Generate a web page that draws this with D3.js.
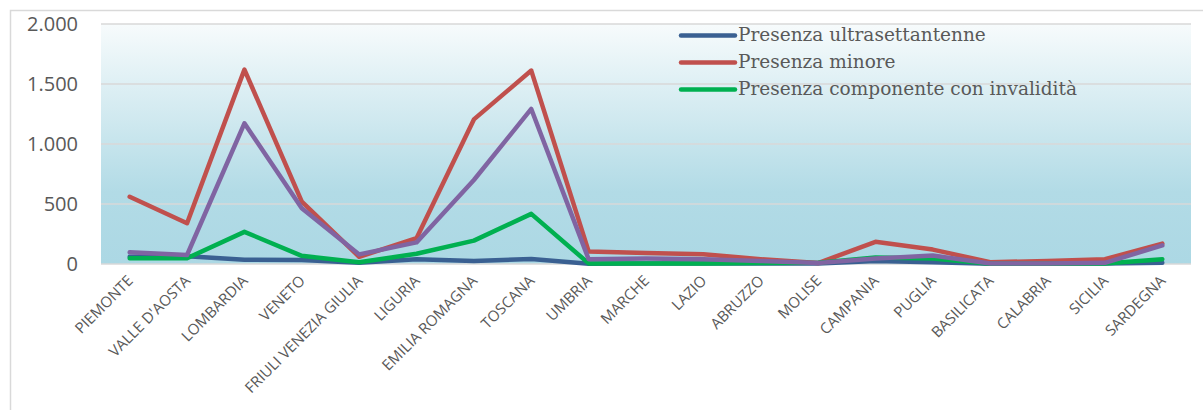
<!DOCTYPE html>
<html><head><meta charset="utf-8">
<script src="https://cdn.jsdelivr.net/npm/d3@7"></script>
<style>html,body{margin:0;padding:0;background:#fff;}svg{display:block;}</style>
</head><body>
<svg id="chart" width="1203" height="410"></svg>
<script>
const categories = ["PIEMONTE","VALLE D'AOSTA","LOMBARDIA","VENETO","FRIULI VENEZIA GIULIA","LIGURIA","EMILIA ROMAGNA","TOSCANA","UMBRIA","MARCHE","LAZIO","ABRUZZO","MOLISE","CAMPANIA","PUGLIA","BASILICATA","CALABRIA","SICILIA","SARDEGNA"];
const ultrasettantenne = [60, 65, 35, 33, 10, 40, 25, 42, 3, 5, 5, 5, 5, 25, 15, 3, 5, 5, 10];
const minore = [560, 340, 1620, 520, 60, 215, 1205, 1612, 105, 92, 82, 40, 8, 185, 120, 15, 25, 40, 170];
const invalidita = [48, 48, 268, 68, 15, 85, 195, 418, 5, 5, 5, 8, 10, 55, 45, 3, 3, 5, 40];
const quartaSerie = [97, 75, 1172, 464, 80, 180, 700, 1292, 40, 45, 40, 25, 8, 45, 70, 5, 5, 10, 155];
const yTicks = [0, 500, 1000, 1500, 2000];
const seriesNames = ["Presenza ultrasettantenne","Presenza minore","Presenza componente con invalidità"];

const series = [
  {name: seriesNames[0], values: ultrasettantenne, color: "#3a6092", legend: true},
  {name: seriesNames[1], values: minore, color: "#c0504d", legend: true},
  {name: seriesNames[2], values: invalidita, color: "#00b050", legend: true},
  {name: "", values: quartaSerie, color: "#8064a2", legend: false}
];

const svg = d3.select("#chart");
const plot = {left: 101, right: 1191, top: 24, bottom: 264};

// outer frame
svg.append("rect").attr("x",10.5).attr("y",10.5).attr("width",1210).attr("height",420)
  .attr("fill","#fff").attr("stroke","#d9d9d9").attr("stroke-width",1.5);

const defs = svg.append("defs");
const grad = defs.append("linearGradient").attr("id","bg").attr("x1",0).attr("y1",0).attr("x2",0).attr("y2",1);
grad.append("stop").attr("offset","0%").attr("stop-color","#f7fbfc");
grad.append("stop").attr("offset","70%").attr("stop-color","#b2dbe6");
grad.append("stop").attr("offset","100%").attr("stop-color","#acd8e4");

const x = d3.scalePoint().domain(categories).range([plot.left, plot.right]).padding(0.5);
const y = d3.scaleLinear().domain([0, 2000]).range([plot.bottom, plot.top]);

svg.append("rect").attr("x",plot.left).attr("y",plot.top).attr("width",plot.right-plot.left)
  .attr("height",plot.bottom-plot.top).attr("fill","url(#bg)");

// gridlines
svg.append("g").selectAll("line").data(yTicks).join("line")
  .attr("x1",plot.left).attr("x2",plot.right)
  .attr("y1",d=>y(d)).attr("y2",d=>y(d))
  .attr("stroke","#d9d9d9").attr("stroke-width",1.5);

// y axis labels
const yAxis = d3.axisLeft(y).tickValues(yTicks).tickSize(0).tickPadding(0)
  .tickFormat(d => d3.format(",")(d).replace(/,/g,"."));
const ya = svg.append("g").attr("transform","translate(78,0)").call(yAxis);
ya.select(".domain").remove();
ya.selectAll("text").attr("font-family","'Open Sans', sans-serif").attr("font-size",20).attr("fill","#595959");

// x axis labels
const xAxis = d3.axisBottom(x).tickSize(0).tickPadding(0);
const xa = svg.append("g").attr("transform",`translate(0,${plot.bottom})`).call(xAxis);
xa.select(".domain").remove();
xa.selectAll("text")
  .attr("font-family","'Open Sans', sans-serif").attr("font-size",15).attr("fill","#595959")
  .attr("text-anchor","end").attr("y",0).attr("dy","0.35em")
  .attr("transform","translate(0,14) rotate(-45)");

// lines
const line = d3.line().x((d,i)=>x(categories[i])).y(d=>y(d));
svg.append("g").selectAll("path").data(series).join("path")
  .attr("d", s => line(s.values))
  .attr("fill","none").attr("stroke", s=>s.color).attr("stroke-width",4.5)
  .attr("stroke-linejoin","round").attr("stroke-linecap","round");

// legend
const lg = svg.append("g").selectAll("g").data(series.filter(s=>s.legend)).join("g")
  .attr("transform",(d,i)=>`translate(681,${35.5 + i*27})`);
lg.append("line").attr("x1",0).attr("x2",54).attr("y1",0).attr("y2",0)
  .attr("stroke",d=>d.color).attr("stroke-width",4.5).attr("stroke-linecap","round");
lg.append("text").attr("x",57).attr("y",0).attr("dy","0.32em")
  .attr("font-family","'DejaVu Serif', serif").attr("font-size",18.5).attr("fill","#595959")
  .text(d=>d.name);
</script>
</body></html>
